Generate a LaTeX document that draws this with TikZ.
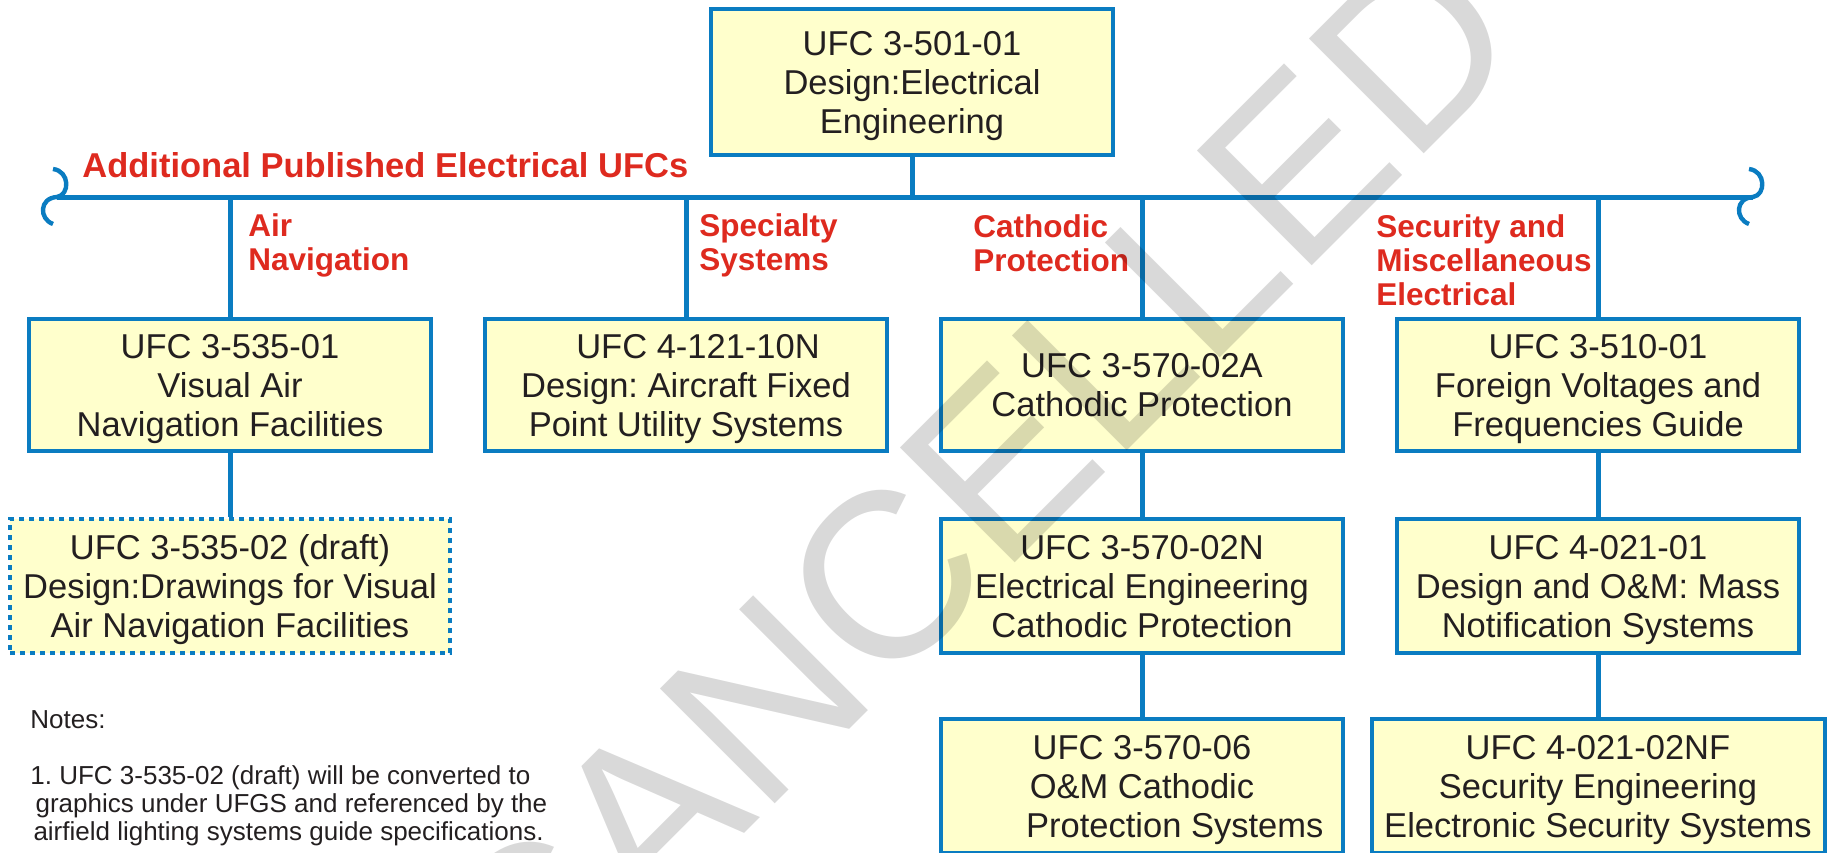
\documentclass[tikz,border=0pt]{standalone}
\usepackage{fontspec}
\setmainfont{Liberation Sans}
\usetikzlibrary{positioning}
\definecolor{ufcblue}{HTML}{0A7CC1}
\definecolor{ufcfill}{HTML}{FFFFCC}
\definecolor{ufcred}{HTML}{DE2A1F}
\definecolor{ufctext}{HTML}{231F20}
\frenchspacing

\tikzset{
  ufcbox/.style={rectangle, draw=ufcblue, line width=2pt, fill=ufcfill, inner sep=0pt,
    align=center, text=ufctext, text depth=0pt, minimum width=201pt, minimum height=67pt,
    font=\fontsize{17.25}{19.5}\selectfont},
  draftbox/.style={ufcbox, dash pattern=on 2.5pt off 2.5pt, minimum width=220pt},
  catlabel/.style={anchor=base west, align=left, inner sep=0pt, text=ufcred,
    font=\bfseries\fontsize{15.75}{17}\selectfont},
  bus/.style={draw=ufcblue, line width=2.5pt},
}

\begin{document}
\begin{tikzpicture}[x=0.5pt, y=-0.5pt]
  \useasboundingbox (0,0) rectangle (1827,852);
  \clip (0,0) rectangle (1827,852);

  % main document
  \node[ufcbox, minimum height=73pt, text depth=-4pt] (top) at (912,82) {UFC 3-501-01\\Design:Electrical\\Engineering};

  % bus line with brace ends
  \coordinate (busL) at (57,197);
  \coordinate (busR) at (1753,197);
  \draw[bus] (busL) -- (busR);
  \foreach \bx in {57,1753}
    \draw[bus, line width=2.2pt, shift={(\bx,197)}] (-4,-28) .. controls (13,-26) and (13,-2) .. (0,0)
      .. controls (-18,1) and (-18,22) .. (-4,27);
  \draw[bus] (top.south) -- (top.south |- busL);

  \node[anchor=base west, inner sep=0pt, text=ufcred, font=\bfseries\fontsize{17.25}{18}\selectfont] (addl) at (82,177) {Additional Published Electrical UFCs};

  % categories (anchored at last line)
  \node[catlabel] (navlbl) at (248,270) {Air\\Navigation};
  \node[catlabel] (speclbl) at (699,270) {Specialty\\Systems};
  \node[catlabel] (catlbl) at (973,271) {Cathodic\\Protection};
  \node[catlabel] (seclbl) at (1376,305) {Security and\\Miscellaneous\\Electrical};

  % second row
  \node[ufcbox, minimum height=66pt] (nav) at (230,385) {UFC 3-535-01\\Visual Air\\Navigation Facilities};
  \node[ufcbox, minimum height=66pt] (fix) at (686,385) {\hspace*{0.7em}UFC 4-121-10N\\Design: Aircraft Fixed\\Point Utility Systems};
  \node[ufcbox, minimum height=66pt] (cat) at (1142,385) {UFC 3-570-02A\\Cathodic Protection};
  \node[ufcbox, minimum height=66pt] (volt) at (1598,385) {UFC 3-510-01\\Foreign Voltages and\\Frequencies Guide};
  \foreach \n in {nav,fix,cat,volt}
    \draw[bus] (\n.north |- busL) -- (\n.north);

  % third row
  \node[draftbox] (navdraw) at (230,586) {UFC 3-535-02 (draft)\\Design:Drawings for Visual\\Air Navigation Facilities};
  \node[ufcbox] (catn) at (1142,586) {UFC 3-570-02N\\Electrical Engineering\\Cathodic Protection};
  \node[ufcbox] (mass) at (1598,586) {UFC 4-021-01\\Design and O\&M: Mass\\Notification Systems};

  % fourth row
  \node[ufcbox] (catom) at (1142,786) {UFC 3-570-06\\O\&M Cathodic\\\hspace*{1.9em}Protection Systems};
  \node[ufcbox, minimum width=226.5pt] (secu) at (1598,786) {UFC 4-021-02NF\\Security Engineering\\Electronic Security Systems};

  \draw[bus] (nav.south) -- (navdraw.north);
  \draw[bus] (cat.south) -- (catn.north);
  \draw[bus] (catn.south) -- (catom.north);
  \draw[bus] (volt.south) -- (mass.north);
  \draw[bus] (mass.south) -- (secu.north);

  % notes
  \node[anchor=base west, inner sep=0pt, text=ufctext, font=\fontsize{13}{14}\selectfont] (notes) at (30,728) {Notes:};
  \node[anchor=base west, align=left, inner sep=0pt, text=ufctext, font=\fontsize{13}{14}\selectfont] (note1) at (30,840)
    {1. UFC 3-535-02 (draft) will be converted to\\\hspace*{0.2em}graphics under UFGS and referenced by the\\\hspace*{0.12em}airfield lighting systems guide specifications.};

  % watermark
  \node[rotate=45, anchor=base, inner sep=0pt, text=black, text opacity=0.15, font=\fontsize{118}{118}\selectfont] (stamp) at (1030,548) {CANCELLED};
\end{tikzpicture}
\end{document}
